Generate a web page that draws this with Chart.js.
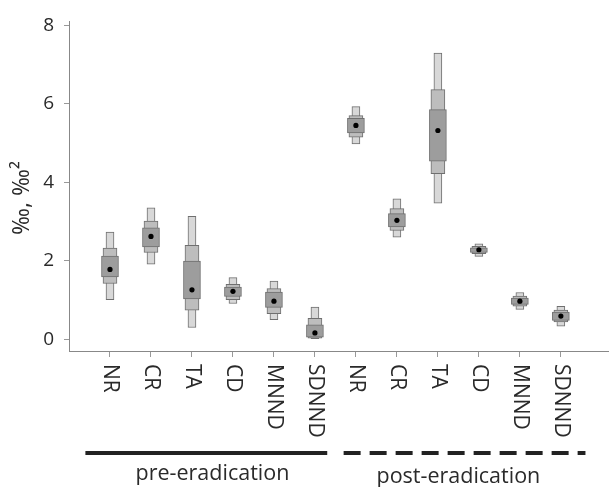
<!DOCTYPE html>
<html>
<head>
<meta charset="utf-8">
<script src="https://cdn.jsdelivr.net/npm/chart.js@4"></script>
<style>
  body { margin: 0; background: #fff; }
  #wrap { width: 612px; height: 487px; }
</style>
</head>
<body>
<div id="wrap"><canvas id="chart" width="612" height="487"></canvas></div>
<script>
// metric labels, pre-eradication then post-eradication
var categories = ["NR", "CR", "TA", "CD", "MNND", "SDNND", "NR", "CR", "TA", "CD", "MNND", "SDNND"];
var groups = ["pre-eradication", "post-eradication"];
var yTicks = [0, 2, 4, 6, 8];

// mode and credible intervals (95 / 75 / 50 %)
var modes     = [1.78, 2.62, 1.26, 1.22, 0.97, 0.16, 5.45, 3.03, 5.32, 2.28, 0.97, 0.59];
var ci95Low   = [1.01, 1.91, 0.30, 0.91, 0.50, 0.00, 4.98, 2.60, 3.47, 2.11, 0.76, 0.33];
var ci95High  = [2.73, 3.35, 3.13, 1.57, 1.48, 0.82, 5.93, 3.58, 7.29, 2.43, 1.19, 0.84];
var ci75Low   = [1.42, 2.21, 0.74, 1.01, 0.65, 0.03, 5.15, 2.77, 4.22, 2.18, 0.84, 0.44];
var ci75High  = [2.32, 3.01, 2.39, 1.40, 1.29, 0.53, 5.70, 3.33, 6.36, 2.37, 1.10, 0.74];
var ci50Low   = [1.59, 2.35, 1.03, 1.09, 0.81, 0.05, 5.26, 2.86, 4.54, 2.21, 0.89, 0.48];
var ci50High  = [2.12, 2.84, 1.99, 1.33, 1.20, 0.37, 5.63, 3.20, 5.85, 2.33, 1.05, 0.69];

var FONT = "'Open Sans', 'DejaVu Sans', sans-serif";

function toBars(lo, hi) {
  return lo.map(function (v, i) { return { x: i + 1, y: [v, hi[i]] }; });
}

var barStyle = {
  type: "bar",
  grouped: false,
  borderColor: "#6f6f6f",
  borderWidth: 1,
  borderSkipped: false,
};

var decorations = {
  id: "decorations",
  afterDraw: function (chart) {
    var ctx = chart.ctx;
    var xs = chart.scales.x;
    ctx.save();
    ctx.fillStyle = "#2a2a2a";

    // rotated category labels (reading top to bottom)
    ctx.font = "21px " + FONT;
    ctx.textAlign = "left";
    ctx.textBaseline = "middle";
    categories.forEach(function (c, i) {
      var px = xs.getPixelForValue(i + 1);
      ctx.save();
      ctx.translate(px, 364);
      ctx.rotate(Math.PI / 2);
      ctx.fillText(c, 0, 0);
      ctx.restore();
    });

    // y title
    ctx.save();
    ctx.font = "23px " + FONT;
    ctx.textAlign = "center";
    ctx.textBaseline = "middle";
    ctx.translate(22, 198);
    ctx.rotate(-Math.PI / 2);
    ctx.fillText("\u2030, \u2030\u00b2", 0, 0);
    ctx.restore();

    // group lines
    ctx.strokeStyle = "#222";
    ctx.lineWidth = 4;
    ctx.beginPath();
    ctx.moveTo(xs.getPixelForValue(0.4), 453);
    ctx.lineTo(xs.getPixelForValue(6.3), 453);
    ctx.stroke();
    ctx.setLineDash([17, 9]);
    ctx.beginPath();
    ctx.moveTo(xs.getPixelForValue(6.7), 453);
    ctx.lineTo(xs.getPixelForValue(12.6), 453);
    ctx.stroke();
    ctx.setLineDash([]);

    ctx.font = "21.5px " + FONT;
    ctx.textAlign = "center";
    ctx.textBaseline = "middle";
    ctx.fillText(groups[0], xs.getPixelForValue(3.5), 474);
    ctx.fillText(groups[1], xs.getPixelForValue(9.5), 477);
    ctx.restore();
  }
};

var ctx = document.getElementById("chart").getContext("2d");
var myChart = new Chart(ctx, {
  type: "bar",
  data: {
    datasets: [
      {
        type: "scatter",
        data: modes.map(function (v, i) { return { x: i + 1, y: v }; }),
        pointRadius: 2.6,
        pointBackgroundColor: "#000",
        pointBorderWidth: 0,
        order: 0,
      },
      Object.assign({}, barStyle, { data: toBars(ci50Low, ci50High), backgroundColor: "#9d9d9d", barThickness: 17, order: 1 }),
      Object.assign({}, barStyle, { data: toBars(ci75Low, ci75High), backgroundColor: "#bdbdbd", barThickness: 14, order: 2 }),
      Object.assign({}, barStyle, { data: toBars(ci95Low, ci95High), backgroundColor: "#d8d8d8", barThickness: 8, order: 3 }),
    ],
  },
  options: {
    responsive: false,
    animation: false,
    layout: { padding: { top: 21, left: 0, right: 0, bottom: 0 } },
    plugins: { legend: { display: false }, tooltip: { enabled: false } },
    scales: {
      x: {
        type: "linear",
        min: 0,
        max: 13.15,
        offset: false,
        afterBuildTicks: function (scale) {
          scale.ticks = categories.map(function (c, i) { return { value: i + 1 }; });
        },
        afterFit: function (scale) { scale.height = 136; },
        ticks: { display: false },
        grid: { offset: false, drawOnChartArea: false, drawTicks: true, tickLength: 6, color: "#999" },
        border: { color: "#888" },
      },
      y: {
        min: -0.3,
        max: 8.1,
        afterBuildTicks: function (scale) {
          scale.ticks = yTicks.map(function (v) { return { value: v }; });
        },
        afterFit: function (scale) { scale.width = 69; },
        ticks: { color: "#2a2a2a", padding: 10, font: { family: FONT, size: 19 } },
        grid: { drawOnChartArea: false, drawTicks: true, tickLength: 5, color: "#999" },
        border: { color: "#888" },
      },
    },
  },
  plugins: [decorations],
});
</script>
</body>
</html>
